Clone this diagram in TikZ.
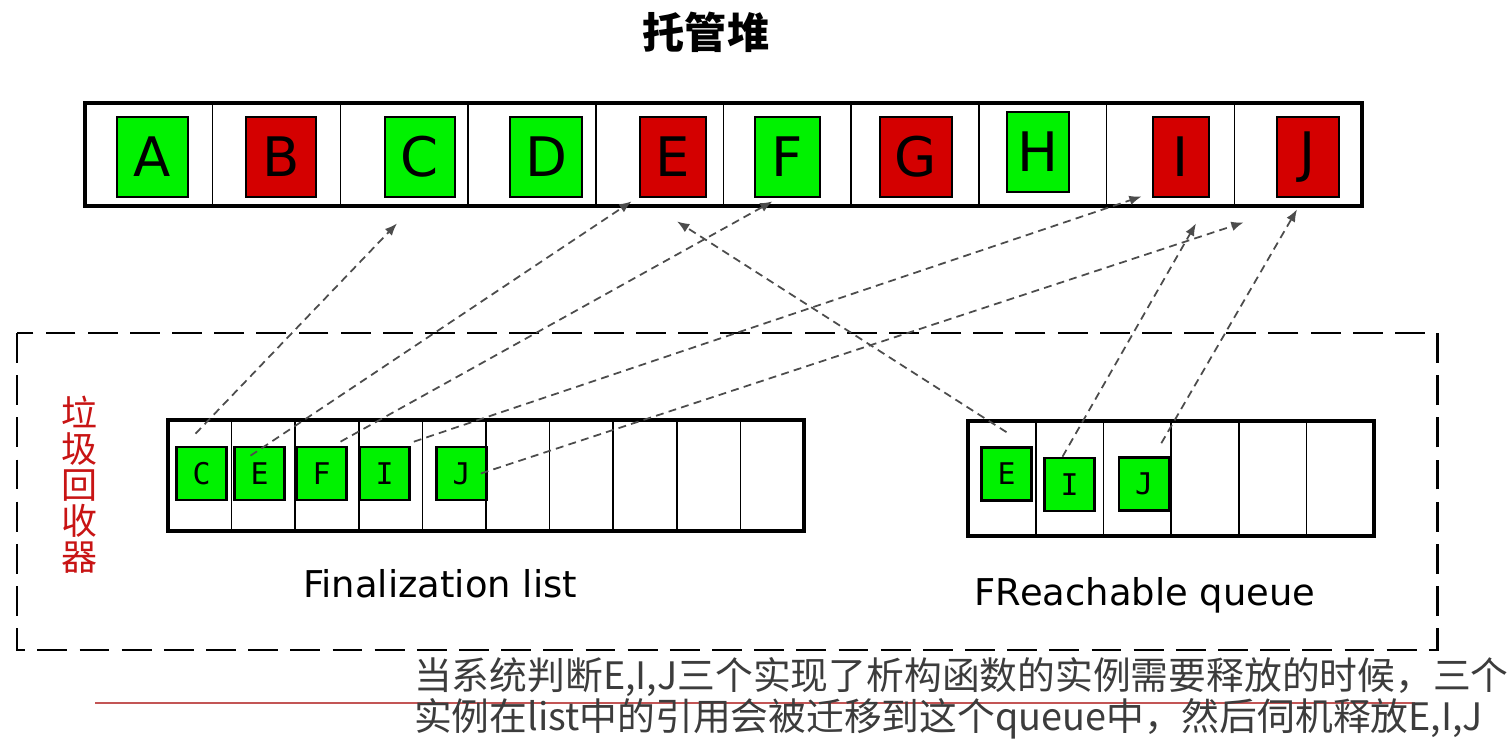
\documentclass[tikz,border=0pt]{standalone}
\usepackage{fontspec}
\setmainfont{DejaVu Sans}
\newfontfamily\cjk{Noto Sans CJK SC}
\newfontfamily\refmono{DejaVu Sans Mono}
\usetikzlibrary{arrows.meta,calc}
\definecolor{objgreen}{RGB}{0,242,0}
\definecolor{objred}{RGB}{212,0,0}
\definecolor{gcred}{RGB}{200,20,20}
\definecolor{notegray}{RGB}{60,60,60}
\definecolor{linered}{RGB}{195,85,85}

\begin{document}
\begin{tikzpicture}[x=0.02cm,y=-0.02cm,
  heapobj/.style={draw,line width=1.6pt,minimum height=1.6cm,inner sep=0pt,font=\fontsize{31}{31}\selectfont},
  alive/.style={heapobj,fill=objgreen},
  dead/.style={heapobj,fill=objred},
  refobj/.style={draw,line width=1.5pt,fill=objgreen,minimum width=1cm,minimum height=1.06cm,inner sep=0pt,font=\refmono\fontsize{17}{17}\selectfont},
  frame/.style={line width=2.2pt},
  cell/.style={line width=0.9pt},
  link/.style={draw=black!70,line width=1pt,dash pattern=on 4.5pt off 3pt,-{Latex[length=7pt,width=5.5pt]}}]

\useasboundingbox (0,0) rectangle (1510,756);
\fill[white] (0,0) rectangle (1510,756);

\node[font=\cjk\bfseries\fontsize{24}{24}\selectfont] (title) at (706,32) {托管堆};

% managed heap
\draw[frame] (85,103) rectangle (1362,206);
\foreach \i in {1,...,9}
  \draw[cell] ({85+127.7*\i},103) -- ({85+127.7*\i},206);
\foreach \n/\x/\y/\w/\s in {A/152.5/157/71/alive, B/281/157/70/dead, C/420/157/70/alive,
    D/546/157/72/alive, E/673/157/66/dead, F/787.5/157/65/alive, G/916/157/72/dead,
    H/1038/152/62/alive, I/1181/157/56/dead, J/1308/157/62/dead}
  \node[\s,minimum width=\w*0.02cm] (h\n) at (\x,\y) {\n};

% garbage collector
\draw[line width=1.7pt,dash pattern=on 17pt off 7pt] (17,333) rectangle (1437,650);
\node[text=gcred,font=\cjk\fontsize{20.5}{20.5}\selectfont,align=center] (gc) at (80,485)
  {垃\\圾\\回\\收\\器};

% finalization list
\draw[frame] (168,420) rectangle (804,531);
\foreach \i in {1,...,9}
  \draw[cell] ({168+63.6*\i},420) -- ({168+63.6*\i},531);
\foreach \n/\x in {C/201.5, E/259.5, F/321.5, I/384.5, J/461.5}
  \node[refobj] (f\n) at (\x,473.5) {\n};
\node[font=\fontsize{21}{21}\selectfont] (flist) at (440,584) {Finalization list};

% freachable queue
\draw[frame] (968,421) rectangle (1374,536);
\foreach \i in {1,...,5}
  \draw[cell] ({968+67.7*\i},421) -- ({968+67.7*\i},536);
\node[refobj] (qE) at (1006.5,474) {E};
\node[refobj] (qI) at (1069.5,484.5) {I};
\node[refobj] (qJ) at (1144,484) {J};
\node[font=\fontsize{21}{21}\selectfont] (fqueue) at (1145,595) {FReachable queue};

% references
\draw[link] ($(fC.north)+(-6,-12)$) -- ($(hC.south)+(-23,25)$);
\draw[link] ($(fE.north)+(-9,10)$) -- ($(hE.south west)+(-7,3)$);
\draw[link] ($(fF.north)+(19,-4)$) -- ($(hF.south)+(-15,3)$);
\draw[link] ($(fI.north east)+(3,-4)$) -- ($(hI.south west)+(-10,-2)$);
\draw[link] ($(fJ.east)+(-7,0)$) -- ($(hJ.south west)+(-32,24)$);
\draw[link] ($(qE.north)+(0,-14)$) -- ($(hE.south)+(4,23)$);
\draw[link] ($(qI.north)+(-7,0)$) -- ($(hI.south)+(15,25)$);
\draw[link] ($(qJ.north east)+(-9,-13)$) -- ($(hJ.south)+(-11,11)$);

% note
\draw[linered,line width=1.1pt] (95,703) -- (1415,703);
\node[anchor=west,text=notegray,font=\cjk\fontsize{21.5}{21.5}\selectfont] (note1) at (408,677)
  {当系统判断E,I,J三个实现了析构函数的实例需要释放的时候，三个};
\node[anchor=west,text=notegray,font=\cjk\fontsize{21.5}{21.5}\selectfont] (note2) at (408,719)
  {实例在list中的引用会被迁移到这个queue中，然后伺机释放E,I,J};
\end{tikzpicture}
\end{document}
